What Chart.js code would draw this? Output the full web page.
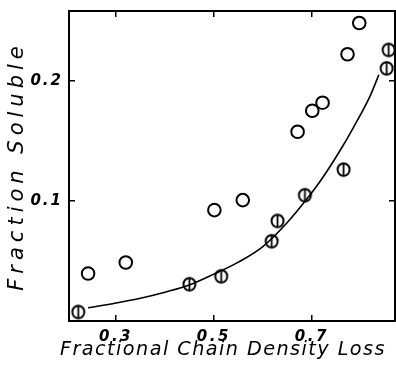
<!DOCTYPE html>
<html>
<head>
<meta charset="utf-8">
<script src="https://cdn.jsdelivr.net/npm/chart.js@4/dist/chart.umd.min.js"></script>
<style>
  html, body { margin: 0; padding: 0; background: #fff; }
  #wrap { width: 396px; height: 369px; }
</style>
</head>
<body>
<div id="wrap"><canvas id="c" width="396" height="369"></canvas></div>
<script>
// ---- data ----
const openX  = [0.243, 0.320, 0.501, 0.559, 0.671, 0.701, 0.722, 0.773, 0.797];
const openY  = [0.0395, 0.0487, 0.0923, 0.1006, 0.1575, 0.175, 0.1817, 0.222, 0.248];
const thetaX = [0.223, 0.450, 0.515, 0.618, 0.630, 0.686, 0.765, 0.853, 0.857];
const thetaY = [0.0075, 0.0306, 0.0372, 0.0664, 0.0833, 0.1047, 0.126, 0.2103, 0.2256];
const curveX = [0.243, 0.30, 0.35, 0.40, 0.45, 0.50, 0.55, 0.60, 0.65, 0.687, 0.72, 0.755, 0.785, 0.82, 0.837];
const curveY = [0.011, 0.015, 0.019, 0.024, 0.030, 0.039, 0.049, 0.062, 0.082, 0.100, 0.118, 0.140, 0.161, 0.188, 0.205];
const xTicks = [0.3, 0.5, 0.7];
const yTicks = [0.1, 0.2];
const xTitle = 'Fractional Chain Density Loss';
const yTitle = 'Fraction Soluble';

const pts = (xs, ys) => xs.map((x, i) => ({x, y: ys[i]}));

// theta marker: circle with vertical bar
const theta = document.createElement('canvas');
theta.width = 17; theta.height = 17;
(function(){
  const g = theta.getContext('2d');
  g.strokeStyle = '#000';
  g.lineWidth = 2;
  g.beginPath(); g.ellipse(8.5, 8.5, 6, 6.3, 0, 0, Math.PI * 2); g.stroke();
  g.lineWidth = 1.8;
  g.beginPath(); g.moveTo(8.5, 1.8); g.lineTo(8.5, 15.2); g.stroke();
})();

const tickFont = {family: 'DejaVu Sans', size: 15, style: 'italic', weight: 'bold'};
const xTitleFont = {family: 'DejaVu Sans', size: 20, style: 'italic', weight: 'normal'};
const yTitleFont = {family: 'DejaVu Sans', size: 21, style: 'italic', weight: 'normal'};

const gridOpt = {drawOnChartArea: false, color: '#000', lineWidth: 1.5, tickLength: -6};
const borderOpt = {display: true, color: '#000', width: 2};

// letter spacing for the hand-lettered look
function spaced(scale, titleSp, labelSp, titleDx) {
  if (scale._spaced) return;
  scale._spaced = true;
  const dt = scale.drawTitle, dl = scale.drawLabels;
  scale.drawTitle = function() {
    const ctx = this.ctx, old = ctx.letterSpacing;
    ctx.save();
    ctx.translate(titleDx, 0);
    ctx.letterSpacing = titleSp + 'px';
    dt.apply(this, arguments);
    ctx.restore();
    ctx.letterSpacing = old || '0px';
  };
  scale.drawLabels = function() {
    const ctx = this.ctx, old = ctx.letterSpacing;
    ctx.letterSpacing = labelSp + 'px';
    dl.apply(this, arguments);
    ctx.letterSpacing = old || '0px';
  };
}
function noPad(s) { s.paddingLeft = 0; s.paddingRight = 0; s.paddingTop = 0; s.paddingBottom = 0; }

new Chart(document.getElementById('c'), {
  type: 'scatter',
  data: {
    datasets: [
      {
        label: 'fit', data: pts(curveX, curveY), showLine: true,
        borderColor: '#000', borderWidth: 1.6, pointRadius: 0,
        cubicInterpolationMode: 'monotone', fill: false
      },
      {
        label: 'open', data: pts(openX, openY), pointStyle: 'circle',
        pointRadius: 6.3, borderColor: '#000', borderWidth: 2,
        backgroundColor: 'rgba(0,0,0,0)', showLine: false
      },
      {
        label: 'theta', data: pts(thetaX, thetaY), pointStyle: theta,
        pointRadius: 7, showLine: false
      }
    ]
  },
  options: {
    responsive: false,
    animation: false,
    layout: {padding: 0, autoPadding: false},
    plugins: {legend: {display: false}, tooltip: {enabled: false}},
    scales: {
      x: {
        type: 'linear', position: 'bottom', min: 0.204, max: 0.87,
        afterBuildTicks: s => { s.ticks = xTicks.map(v => ({value: v})); },
        ticks: {font: tickFont, color: '#000', padding: 13, maxRotation: 0,
                callback: v => v.toFixed(1)},
        grid: gridOpt, border: borderOpt,
        title: {display: true, text: xTitle, font: xTitleFont, color: '#000', padding: {top: 0, bottom: 7}},
        afterFit: s => { s.height = 48; noPad(s); spaced(s, 1.5, 2.5, -9); }
      },
      x2: {
        type: 'linear', position: 'top', min: 0.204, max: 0.87,
        afterBuildTicks: s => { s.ticks = xTicks.map(v => ({value: v})); },
        ticks: {display: false},
        grid: gridOpt, border: borderOpt,
        afterFit: s => { s.height = 11; noPad(s); }
      },
      y: {
        type: 'linear', position: 'left', min: 0, max: 0.258,
        afterBuildTicks: s => { s.ticks = yTicks.map(v => ({value: v})); },
        ticks: {font: tickFont, color: '#000', padding: 12,
                callback: v => v.toFixed(1)},
        grid: gridOpt, border: borderOpt,
        title: {display: true, text: yTitle, font: yTitleFont, color: '#000', padding: {top: 5, bottom: 0}},
        afterFit: s => { s.width = 69; noPad(s); spaced(s, 5, 2, 0); }
      },
      y2: {
        type: 'linear', position: 'right', min: 0, max: 0.258,
        afterBuildTicks: s => { s.ticks = yTicks.map(v => ({value: v})); },
        ticks: {display: false},
        grid: gridOpt, border: borderOpt,
        afterFit: s => { s.width = 1; noPad(s); }
      }
    }
  }
});
</script>
</body>
</html>
